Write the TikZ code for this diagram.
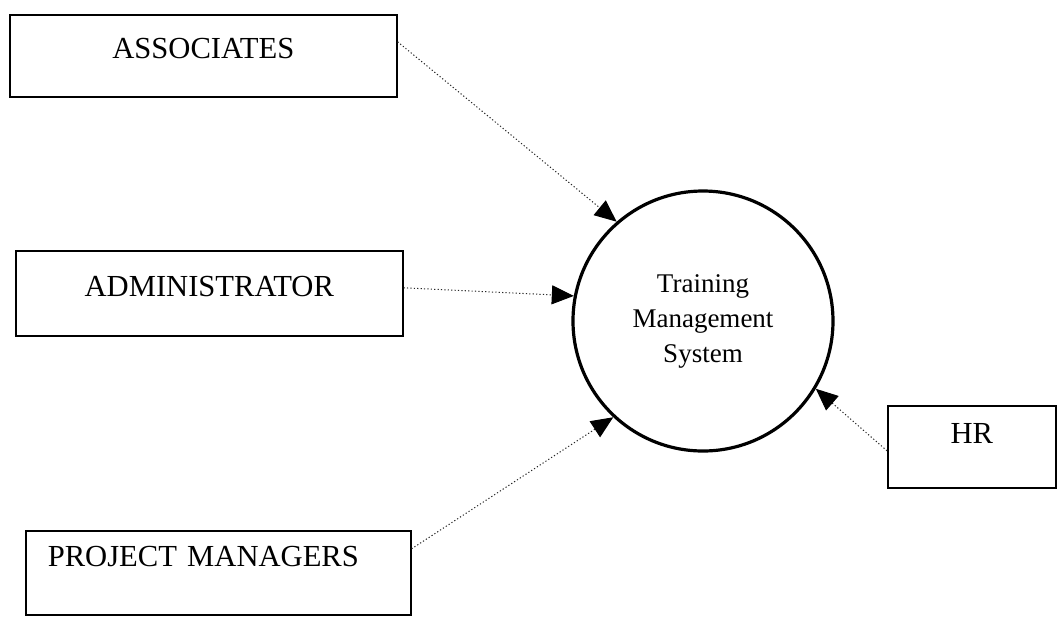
\documentclass[tikz,border=0pt]{standalone}
\usepackage{fontspec}
\setmainfont{Liberation Serif}
\usetikzlibrary{arrows.meta}

\begin{document}
\begin{tikzpicture}[x=0.5pt, y=-0.5pt,
		entity/.style={draw, line width=0.8pt, anchor=north west, inner xsep=0pt, inner ysep=0pt,
			text height=22pt, text depth=19pt, font=\fontsize{15.3}{18}\selectfont},
		process/.style={draw, circle, line width=1.6pt, minimum size=130pt, inner sep=0pt, align=center,
			font=\fontsize{13.5}{17.5}\selectfont},
		flow/.style={line width=0.5pt, dash pattern=on 0.6pt off 1.1pt, black!85,
			-{Triangle[length=11pt, width=9.5pt, color=black]}}
			]
	\useasboundingbox (0,0) rectangle (1057,617);
	
	\node[entity, minimum width=193.5pt, minimum height=40.5pt] (assoc) at (9,14) {ASSOCIATES};
	\node[entity, minimum width=193.5pt, minimum height=42.5pt] (admin) at (15,250) {ADMINISTRATOR};
	\node[entity, minimum height=42pt, text width=192.5pt, align=left, text height=18pt, text depth=24pt] (pm) at (25,530) {\hspace*{11pt}PROJECT MANAGERS};
	\node[entity, minimum width=84pt, minimum height=41pt, text height=19pt, text depth=22pt] (hr) at (887,405) {HR};
	
	\node[process] (tms) at (703,321) {Training\\Management\\System};
	
	\draw[flow] ([yshift=7pt]assoc.east) -- (tms.131.6);
	\draw[flow] ([yshift=2.75pt]admin.east) -- (tms.169.4);
	\draw[flow] ([yshift=12pt]pm.east) -- (tms.227.6);
	\draw[flow] ([yshift=-2pt]hr.west) -- (tms.329);
\end{tikzpicture}
\end{document}
